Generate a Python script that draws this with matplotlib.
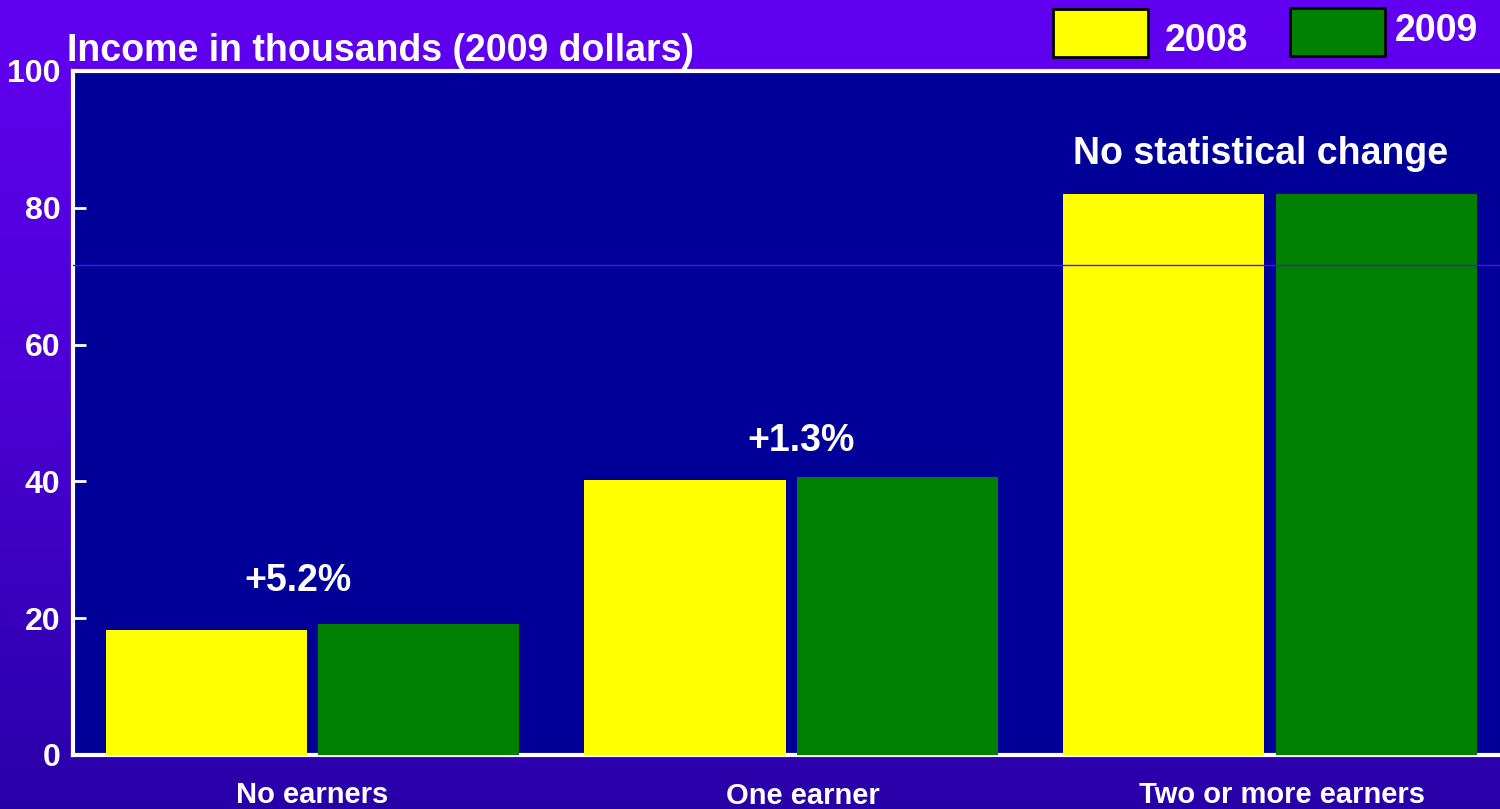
import numpy as np
import matplotlib
matplotlib.use("Agg")
import matplotlib.pyplot as plt
from matplotlib.colors import LinearSegmentedColormap

plt.rcParams["font.family"] = ["Liberation Sans", "DejaVu Sans"]
plt.rcParams["font.weight"] = "bold"

categories = ["No earners", "One earner", "Two or more earners"]
income_2008 = [18.3, 40.2, 82.0]
income_2009 = [19.2, 40.7, 82.0]
changes = ["+5.2%", "+1.3%", "No statistical change"]
yticks = [0, 20, 40, 60, 80, 100]

fig = plt.figure(figsize=(15, 8.09), dpi=100)

# gradient background
bg = fig.add_axes([0, 0, 1, 1], zorder=-10)
grad = np.linspace(0, 1, 256).reshape(-1, 1)
cmap = LinearSegmentedColormap.from_list("bg", ["#6200F2", "#4A00D2", "#2800A8"])
bg.imshow(grad, aspect="auto", cmap=cmap, extent=[0, 1, 0, 1])
bg.set_axis_off()

ax = fig.add_axes([73 / 1500, 1 - 755 / 809, 1 - 73 / 1500, (755 - 71) / 809])
ax.set_facecolor("#000099")

x = np.arange(len(categories))
w = 0.42
ax.bar(x - 0.222, income_2008, w, color="#FFFF00", zorder=3)
ax.bar(x + 0.222, income_2009, w, color="#008000", zorder=3)

ax.axhline(71.7, color="#6600FF", lw=1, zorder=4)

ax.set_xlim(-0.5, 2.48)
ax.set_ylim(0, 100)
ax.set_yticks(yticks)
ax.set_xticks([])
ax.tick_params(axis="y", direction="in", length=9, width=2, color="white",
               labelcolor="white", labelsize=23, pad=9)
for s in ["top", "left", "bottom"]:
    ax.spines[s].set_color("white")
    ax.spines[s].set_linewidth(3)
    ax.spines[s].set_zorder(2)
ax.spines["right"].set_visible(False)

label_y = [0.017, 0.016, 0.017]
for i, c in enumerate(categories):
    fig.text((73 + (x[i] + 0.5) * 478.5 + [0, 12, 13][i]) / 1500, label_y[i], c,
             color="white", fontsize=21, ha="center", va="center", fontweight="bold")

ann_y = [25.4, 45.9, 87.8]
ann_dx = [-0.03, 0.02, -0.02]
for i, t in enumerate(changes):
    ax.text(x[i] + ann_dx[i], ann_y[i], t, color="white", fontsize=27,
            ha="center", va="center", fontweight="bold")

fig.text(67 / 1500, 1 - 51 / 809, "Income in thousands (2009 dollars)", color="white",
         fontsize=27, ha="left", va="center", fontweight="bold")

# legend boxes
leg = [("2008", "#FFFF00", 1053, 9, 1165, 41), ("2009", "#008000", 1290, 8, 1395, 31)]
for lab, col, bx, by, tx, ty in leg:
    fig.patches.append(plt.Rectangle((bx / 1500, 1 - (by + 48) / 809), 95 / 1500, 48 / 809,
                                     transform=fig.transFigure, facecolor=col,
                                     edgecolor="black", lw=2, figure=fig))
    fig.text(tx / 1500, 1 - ty / 809, lab, color="white", fontsize=27,
             ha="left", va="center", fontweight="bold")

plt.savefig("out.png", dpi=100)
